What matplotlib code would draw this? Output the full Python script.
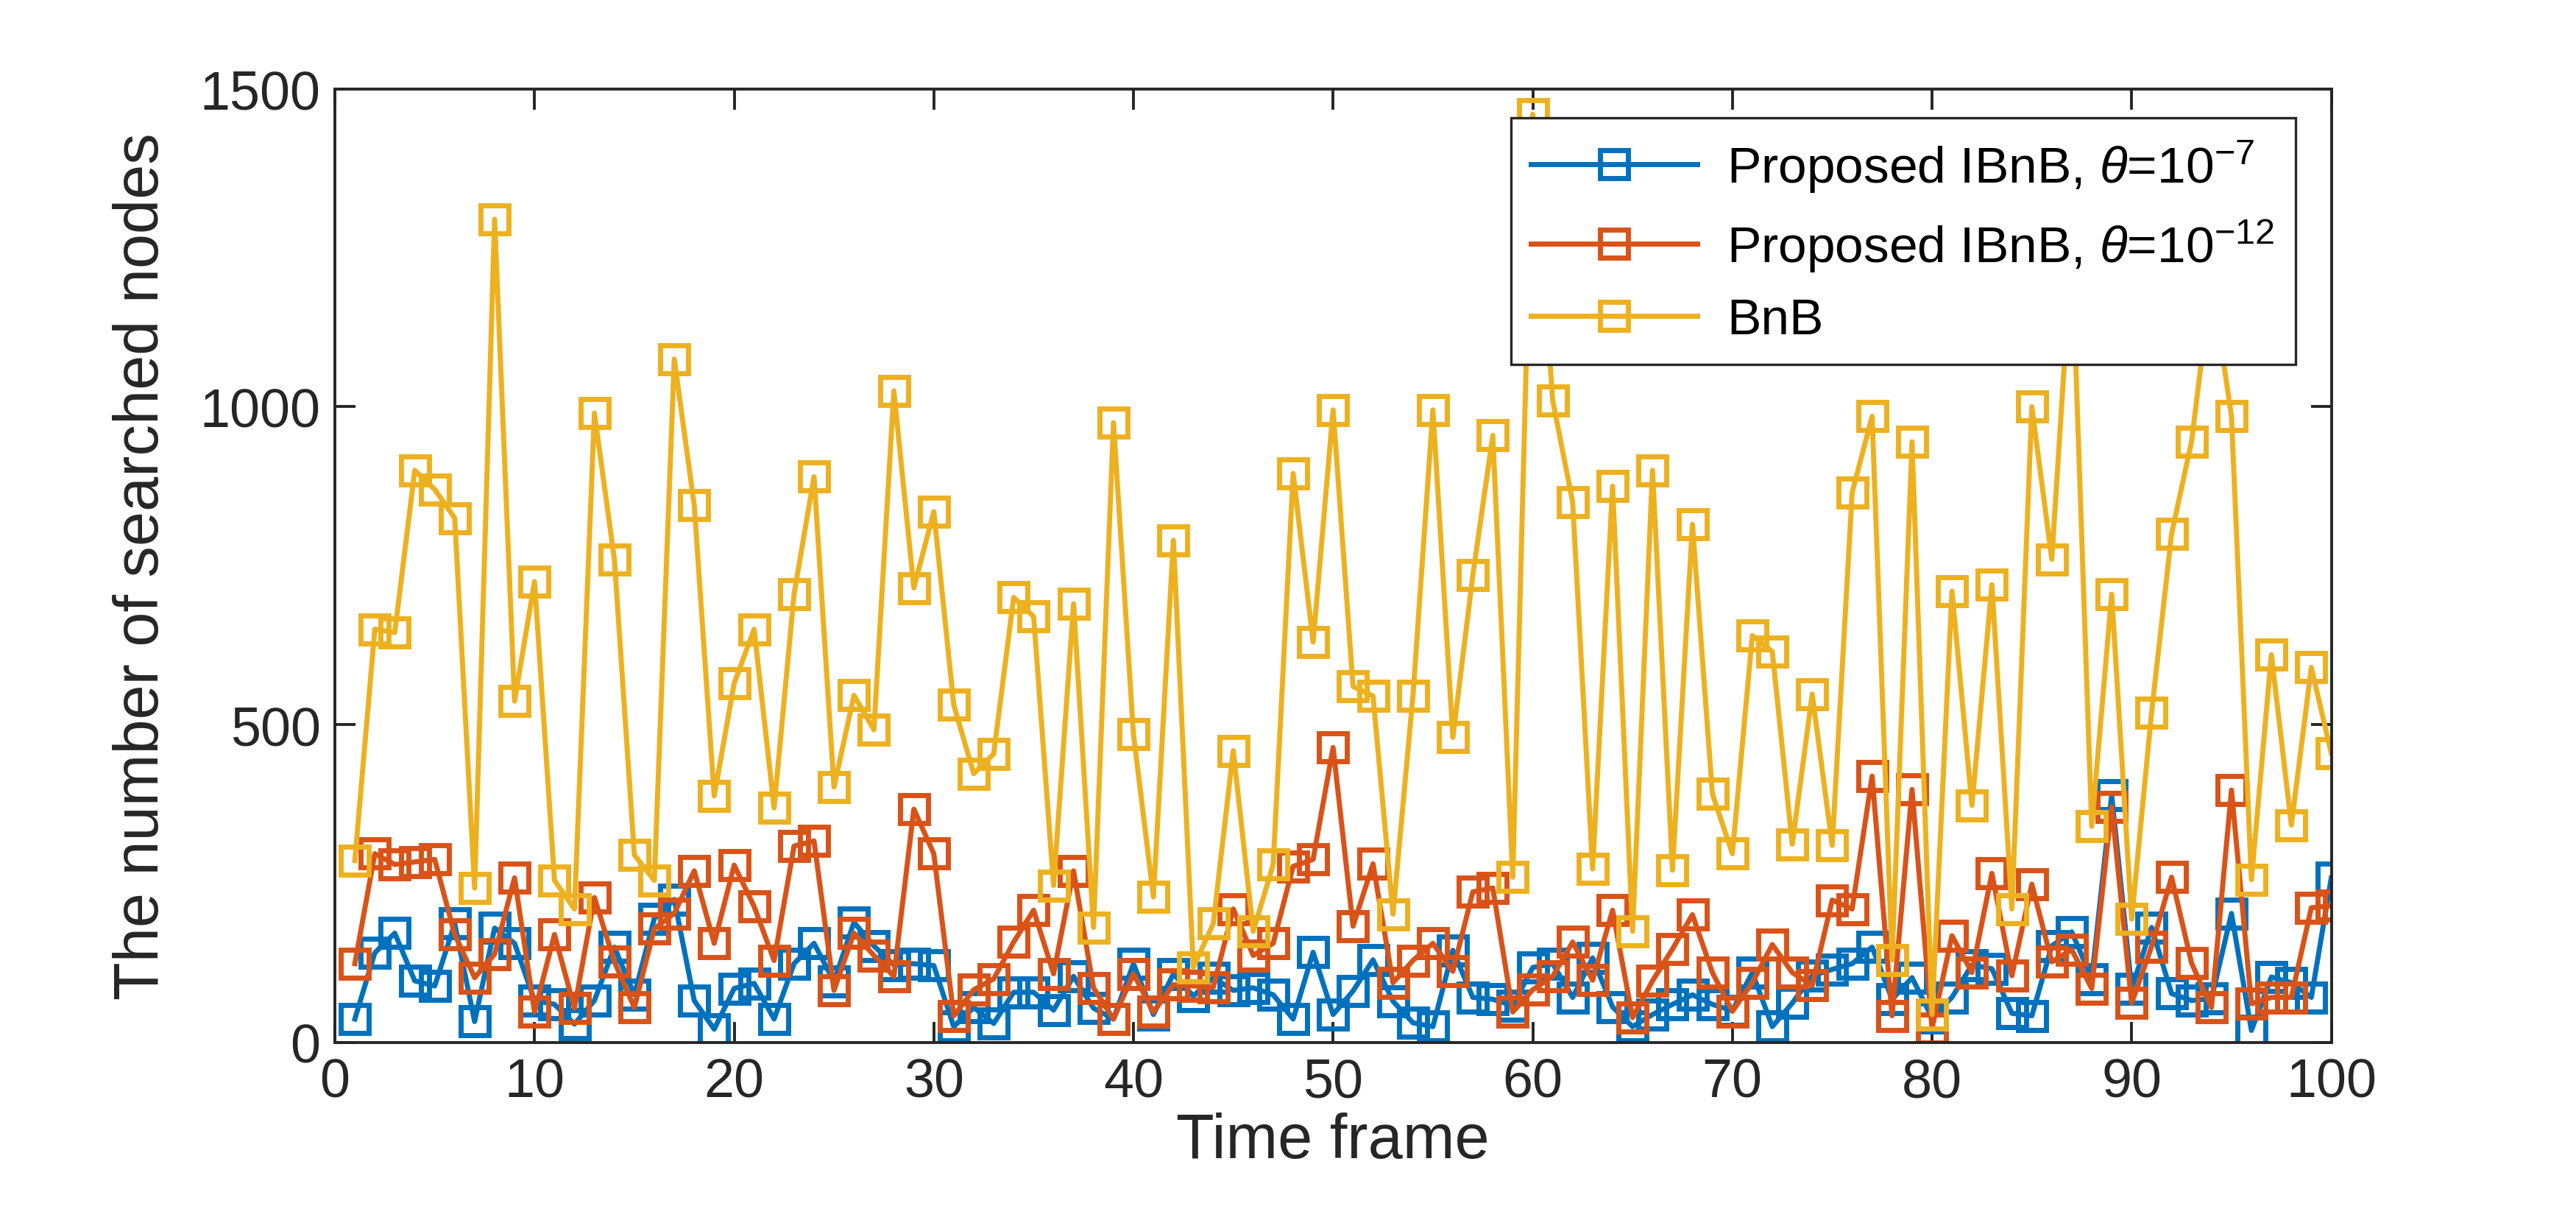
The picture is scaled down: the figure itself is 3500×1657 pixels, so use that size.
import matplotlib.pyplot as plt

plt.rcParams["font.family"] = ["Liberation Sans", "DejaVu Sans"]
plt.rcParams["mathtext.fontset"] = "custom"
plt.rcParams["mathtext.rm"] = "Liberation Sans"
plt.rcParams["mathtext.it"] = "Liberation Sans:italic"

# Time frames 1..100
frames = list(range(1, 101))

# Proposed IBnB, theta = 1e-7
ibnb_7 = [37, 141, 172, 97, 89, 187, 33, 180, 156, 66,
          60, 29, 66, 150, 75, 195, 225, 66, 21, 85,
          93, 37, 124, 156, 96, 189, 152, 122, 124, 121,
          25, 55, 30, 79, 79, 51, 104, 54, 37, 124,
          44, 108, 73, 102, 82, 86, 75, 37, 142, 44,
          81, 130, 65, 31, 25, 145, 71, 68, 58, 118,
          124, 71, 133, 56, 25, 44, 60, 75, 60, 50,
          110, 25, 62, 105, 115, 124, 150, 68, 102, 39,
          71, 122, 116, 46, 42, 152, 174, 100, 389, 85,
          181, 77, 66, 69, 203, 19, 103, 94, 71, 259]

# Proposed IBnB, theta = 1e-12
ibnb_12 = [124, 297, 280, 284, 288, 170, 102, 139, 259, 48,
           170, 54, 228, 127, 55, 179, 203, 270, 156, 279,
           214, 129, 309, 317, 82, 172, 137, 104, 367, 297,
           42, 83, 100, 158, 208, 108, 270, 86, 37, 108,
           48, 91, 89, 87, 210, 137, 156, 277, 288, 464,
           183, 281, 94, 129, 156, 112, 237, 243, 48, 83,
           104, 158, 98, 208, 39, 97, 147, 201, 110, 49,
           94, 154, 110, 90, 224, 210, 419, 42, 398, 22,
           168, 110, 266, 105, 249, 127, 146, 85, 371, 62,
           151, 260, 125, 55, 397, 61, 71, 71, 212, 215]

# BnB
bnb = [286, 650, 645, 900, 870, 825, 243, 1295, 537, 725,
       255, 210, 990, 760, 295, 255, 1075, 845, 388, 565,
       650, 369, 705, 890, 402, 546, 492, 1025, 715, 835,
       531, 423, 454, 700, 670, 247, 690, 181, 975, 485,
       229, 790, 118, 187, 459, 175, 280, 895, 630, 995,
       560, 545, 202, 545, 995, 480, 735, 955, 260, 1460,
       1010, 850, 273, 875, 175, 900, 271, 815, 391, 297,
       640, 615, 312, 548, 310, 865, 985, 130, 945, 44,
       710, 373, 720, 210, 1000, 760, 1250, 340, 705, 194,
       519, 800, 945, 1200, 985, 256, 610, 342, 590, 455]

fig = plt.figure(figsize=(17.5, 8.29), dpi=200)
ax = fig.add_axes([0.130, 0.1454, 0.775, 0.7812])

style = dict(marker="s", markersize=14, markerfacecolor="none",
             markeredgewidth=2.5, linewidth=2.5)
ax.plot(frames, ibnb_7, color="#0072BD",
        label=r"Proposed IBnB, $\it{\theta}$=10$^{-7}$", **style)
ax.plot(frames, ibnb_12, color="#D95319",
        label=r"Proposed IBnB, $\it{\theta}$=10$^{-12}$", **style)
ax.plot(frames, bnb, color="#EDB120", label="BnB", **style)

ax.set_xlim(0, 100)
ax.set_ylim(0, 1500)
ax.set_xticks(range(0, 101, 10))
ax.set_yticks(range(0, 1501, 500))
ax.tick_params(direction="in", length=10, width=1.4, top=True, right=True,
               labelsize=26.5, colors="#262626", pad=7)
for s in ax.spines.values():
    s.set_linewidth(1.4)
    s.set_color("#262626")

ax.set_xlabel("Time frame", fontsize=30.5, color="#262626", labelpad=2)
ax.set_ylabel("The number of searched nodes", fontsize=30.5, color="#262626",
              labelpad=14)

leg = ax.legend(loc="upper right", bbox_to_anchor=(0.982, 0.970),
                fontsize=25, frameon=True, fancybox=False, framealpha=1,
                edgecolor="#262626", handlelength=3.25, labelspacing=0.45,
                borderpad=0.4, handletextpad=0.58, borderaxespad=0)
leg.get_frame().set_linewidth(1.2)
leg.set_zorder(10)

fig.savefig("out.png", dpi=200)
